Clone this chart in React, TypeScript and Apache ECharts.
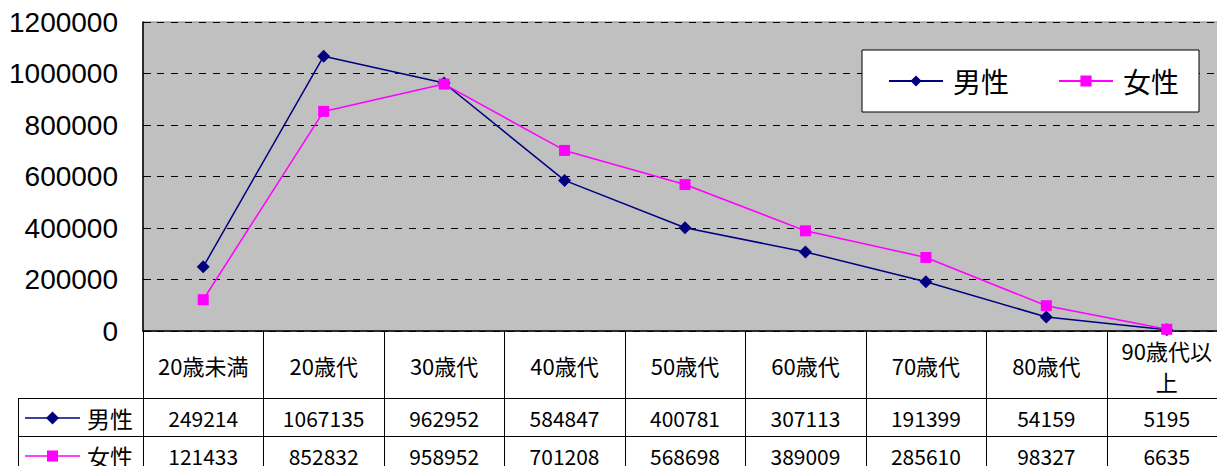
import React, { useEffect, useRef } from "react";
import * as echarts from "echarts";

const categories = ["20歳未満", "20歳代", "30歳代", "40歳代", "50歳代", "60歳代", "70歳代", "80歳代", "90歳代以上"];
const maleValues = [249214, 1067135, 962952, 584847, 400781, 307113, 191399, 54159, 5195];
const femaleValues = [121433, 852832, 958952, 701208, 568698, 389009, 285610, 98327, 6635];
const seriesNames = ["男性", "女性"];
const seriesColors = ["#000080", "#FF00FF"];
const yTicks = [0, 200000, 400000, 600000, 800000, 1000000, 1200000];

const FONT = "'Noto Sans CJK JP', 'Liberation Sans', sans-serif";

export default function App() {
  const ref = useRef<HTMLDivElement>(null);
  useEffect(() => {
    const chart = echarts.init(ref.current!, null, { renderer: "svg" });
    const gridLeft = 143;
    const gridTop = 22;
    const gridW = 1084;
    const gridH = 309;
    chart.setOption({
      animation: false,
      backgroundColor: "#ffffff",
      textStyle: { fontFamily: FONT },
      grid: {
        left: gridLeft,
        top: gridTop,
        width: gridW,
        height: gridH,
        outerBoundsMode: "none",
        containLabel: false,
        show: true,
        backgroundColor: "#C0C0C0",
        borderColor: "#808080",
        borderWidth: 1,
      },
      legend: {
        left: 862,
        top: 50,
        backgroundColor: "#ffffff",
        borderColor: "#000000",
        borderWidth: 1,
        padding: [17, 20, 17, 26],
        itemGap: 49,
        itemWidth: 54,
        itemHeight: 14,
        data: seriesNames,
        textStyle: { fontSize: 28, color: "#000", fontFamily: FONT, padding: [0, 0, 0, 5] },
      },
      xAxis: {
        type: "category",
        data: categories,
        boundaryGap: true,
        axisLine: { lineStyle: { color: "#000", width: 1.5 } },
        axisTick: { show: false },
        axisLabel: {
          color: "#000",
          fontSize: 22,
          fontFamily: FONT,
          margin: 34,
          verticalAlign: "middle",
          lineHeight: 31,
          interval: 0,
          formatter: (v: string) => (v.length > 5 ? v.slice(0, 5) + "\n" + v.slice(5) : v),
        },
      },
      yAxis: {
        type: "value",
        min: yTicks[0],
        max: yTicks[yTicks.length - 1],
        interval: 200000,
        axisLine: { show: true, lineStyle: { color: "#000", width: 1.5 } },
        axisTick: { show: true, inside: true, length: 8, lineStyle: { color: "#000" } },
        axisLabel: {
          color: "#000",
          fontSize: 28,
          fontFamily: "'Liberation Sans', sans-serif",
          margin: 25,
          formatter: (v: number) => String(v),
        },
        splitLine: { show: true, lineStyle: { color: "#000", type: [7, 7], width: 1 } },
      },
      series: [
        {
          name: seriesNames[0],
          type: "line",
          data: maleValues,
          symbol: "diamond",
          symbolSize: 13,
          color: seriesColors[0],
          lineStyle: { width: 1.5, color: seriesColors[0] },
          itemStyle: { color: seriesColors[0] },
        },
        {
          name: seriesNames[1],
          type: "line",
          data: femaleValues,
          symbol: "rect",
          symbolSize: 11,
          color: seriesColors[1],
          lineStyle: { width: 1.5, color: seriesColors[1] },
          itemStyle: { color: seriesColors[1] },
        },
      ],
    });

    // Data table beneath the chart
    const centers = categories.map((c) => chart.convertToPixel({ xAxisIndex: 0 }, c) as number);
    const step = centers.length > 1 ? centers[1] - centers[0] : 120;
    const bottom = gridTop + gridH;
    const headerBottom = 398;
    const rowH = 38;
    const tableLeft = 18;
    const els: any[] = [];
    const lineStyle = { stroke: "#000", lineWidth: 1 };
    for (let i = 0; i <= categories.length; i++) {
      const x = Math.round(centers[0] - step / 2 + i * step) + 0.5;
      els.push({ type: "line", shape: { x1: x, y1: bottom, x2: x, y2: 470 }, style: lineStyle, silent: true });
    }
    els.push({ type: "line", shape: { x1: tableLeft + 0.5, y1: headerBottom, x2: tableLeft + 0.5, y2: 470 }, style: lineStyle });
    for (let r = 0; r < 2; r++) {
      const y = headerBottom + r * rowH + 0.5;
      els.push({ type: "line", shape: { x1: tableLeft, y1: y, x2: 1240, y2: y }, style: lineStyle });
    }
    const rows = [maleValues, femaleValues];
    rows.forEach((vals, r) => {
      const cy = headerBottom + r * rowH + rowH / 2 + 1;
      const color = seriesColors[r];
      els.push({ type: "line", shape: { x1: 25, y1: cy, x2: 80, y2: cy }, style: { stroke: color, lineWidth: 1.5 } });
      if (r === 0) {
        els.push({ type: "polygon", shape: { points: [[52.5, cy - 6.5], [59, cy], [52.5, cy + 6.5], [46, cy]] }, style: { fill: color } });
      } else {
        els.push({ type: "rect", shape: { x: 47, y: cy - 5.5, width: 11, height: 11 }, style: { fill: color } });
      }
      els.push({
        type: "text",
        x: 87,
        y: cy,
        style: { text: seriesNames[r], fontSize: 23, fontFamily: FONT, fill: "#000", align: "left", verticalAlign: "middle" },
      });
      vals.forEach((v, i) => {
        els.push({
          type: "text",
          x: centers[i],
          y: cy,
          style: { text: String(v), fontSize: 21, fontFamily: FONT, fill: "#000", align: "center", verticalAlign: "middle" },
        });
      });
    });
    chart.setOption({ graphic: { elements: els } });
    return () => chart.dispose();
  }, []);
  return (
    <div
      ref={ref}
      style={{ position: "absolute", left: 0, top: 0, width: 1217, height: 466, overflow: "hidden" }}
    />
  );
}
